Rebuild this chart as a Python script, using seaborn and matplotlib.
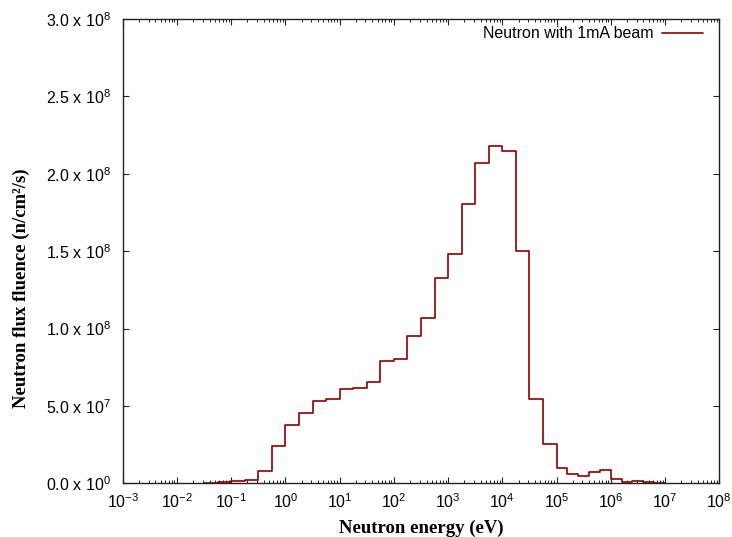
import matplotlib
matplotlib.use('Agg')
import numpy as np
import pandas as pd
import matplotlib.pyplot as plt
import matplotlib.ticker as mticker
import seaborn as sns

# ---- data ----
bin_edge_exponents = [-1.5, -1.25, -1.0, -0.75, -0.5, -0.25, 0.0, 0.25, 0.5, 0.75,
                      1.0, 1.25, 1.5, 1.75, 2.0, 2.25, 2.5, 2.75, 3.0, 3.25,
                      3.5, 3.75, 4.0, 4.25, 4.5, 4.75, 5.0, 5.2, 5.4, 5.6,
                      5.8, 6.0, 6.2, 6.4, 6.6, 6.8, 7.0]
flux_millions = [0.5, 0.6, 1.7, 2.4, 8.0, 24.0, 37.5, 45.7, 53.4, 54.3,
                 60.8, 61.8, 65.7, 78.9, 80.2, 95.2, 106.7, 132.9, 148.0, 180.4,
                 206.7, 218.0, 215.0, 150.2, 54.3, 25.4, 9.8, 5.9, 4.9, 7.6,
                 8.3, 3.1, 0.6, 1.5, 0.8, 0.3]
series_label = "Neutron with 1mA beam"
x_tick_exponents = [-3, -2, -1, 0, 1, 2, 3, 4, 5, 6, 7, 8]
y_tick_values = [0, 5.0e7, 1.0e8, 1.5e8, 2.0e8, 2.5e8, 3.0e8]
y_tick_labels = ['0.0 x 10$^{0}$', '5.0 x 10$^{7}$', '1.0 x 10$^{8}$',
                 '1.5 x 10$^{8}$', '2.0 x 10$^{8}$', '2.5 x 10$^{8}$',
                 '3.0 x 10$^{8}$']
x_label = "Neutron energy (eV)"
y_label = "Neutron flux fluence (n/cm\u00b2/s)"

# ---- build step-line table ----
edges = [10.0 ** e for e in bin_edge_exponents]
vals = [v * 1e6 for v in flux_millions]
xs = [edges[0]] + edges
ys = [0.0] + vals + [0.0]
df = pd.DataFrame({"energy": xs, "flux": ys, "series": series_label})

sns.set_style("ticks")
plt.rcParams['font.family'] = ['Liberation Sans', 'DejaVu Sans']
plt.rcParams['text.color'] = 'black'
plt.rcParams['axes.labelcolor'] = 'black'
plt.rcParams['mathtext.fontset'] = 'custom'
plt.rcParams['mathtext.rm'] = 'Liberation Sans'
plt.rcParams['mathtext.it'] = 'Liberation Sans:italic'
plt.rcParams['mathtext.bf'] = 'Liberation Sans:bold'

fig = plt.figure(figsize=(7.32, 5.37), dpi=100)
ax = fig.add_axes([0.1676, 0.1, 0.815, 0.8646])

sns.lineplot(data=df, x="energy", y="flux", hue="series", palette=["#8b0000"],
             estimator=None, sort=False, drawstyle="steps-post",
             linewidth=1.2, ax=ax)

ax.set_xscale("log")
ax.set_xlim(10.0 ** x_tick_exponents[0], 10.0 ** x_tick_exponents[-1])
ax.set_ylim(y_tick_values[0], y_tick_values[-1])

ax.xaxis.set_major_locator(mticker.FixedLocator([10.0 ** e for e in x_tick_exponents]))
ax.xaxis.set_major_formatter(mticker.FixedFormatter(
    ['10$^{%d}$' % e if e >= 0 else '10$^{\u2212%d}$' % (-e) for e in x_tick_exponents]))
ax.xaxis.set_minor_locator(mticker.LogLocator(base=10, subs=np.arange(2, 10), numticks=100))
ax.xaxis.set_minor_formatter(mticker.NullFormatter())
ax.yaxis.set_major_locator(mticker.FixedLocator(y_tick_values))
ax.yaxis.set_major_formatter(mticker.FixedFormatter(y_tick_labels))
ax.yaxis.set_minor_locator(mticker.NullLocator())

ax.tick_params(which='both', direction='in', top=True, right=True,
               labelsize=11.5, colors='#222222', labelcolor='black')
ax.tick_params(which='major', length=4, width=0.8)
ax.tick_params(which='minor', length=2.2, width=0.7)
ax.tick_params(axis='x', which='major', pad=6.5)
ax.tick_params(axis='y', which='major', pad=8.5)
for s in ax.spines.values():
    s.set_color('#222222')
    s.set_linewidth(1.0)

ax.set_xlabel(x_label, family=['Liberation Serif', 'DejaVu Serif'],
              fontweight='bold', fontsize=13.5, labelpad=6)
ax.set_ylabel(y_label, family=['Liberation Serif', 'DejaVu Serif'],
              fontweight='bold', fontsize=13.5)
ax.yaxis.set_label_coords(-0.156, 0.42)

ax.legend(loc='upper right', bbox_to_anchor=(0.973, 0.984), frameon=False,
          markerfirst=False, handlelength=2.6, handletextpad=0.5,
          borderpad=0, borderaxespad=0, fontsize=11.5, title=None)

fig.savefig("out.png", dpi=100)
